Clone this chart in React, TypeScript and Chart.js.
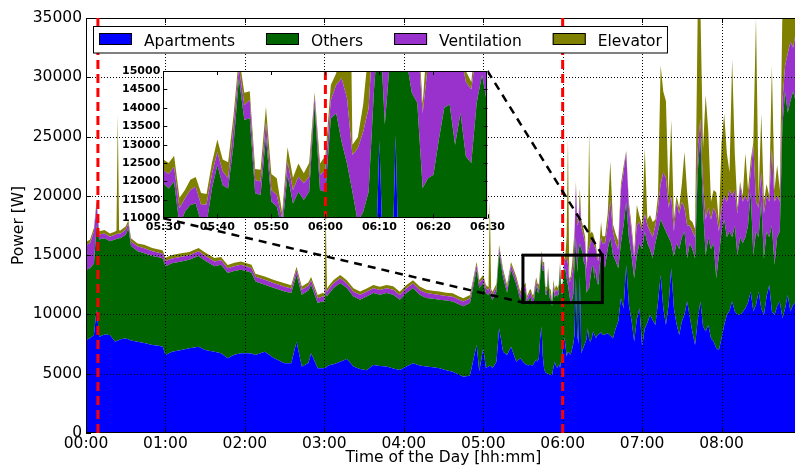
import React, { useEffect, useRef } from 'react';
import { Chart, registerables } from 'chart.js';

Chart.register(...registerables);

// ---------- DATA (minutes after midnight, power in W) ----------
const nightMinutes = [
  0, 3, 6, 8, 10, 14, 18, 22, 23, 24,
  25, 26, 30, 32, 34, 39, 44, 50, 55, 58,
  60, 65, 72, 78, 85, 90, 97, 102, 107, 112,
  117, 122, 125, 128, 135, 142, 150, 155, 159, 163,
  168, 170, 175, 179, 180, 181, 182, 184, 187, 192,
  197, 202, 207, 212, 217, 222, 227, 232, 237, 242,
  247, 252, 257, 262, 267, 272, 277, 281, 285, 290,
  295, 297, 300, 302, 304, 305, 306, 307, 310, 312,
  315, 318, 321, 325, 328,
];
const nightApartments = [
  7840, 8000, 8260, 10400, 8120, 8300, 8260, 7700, 7750, 7800,
  7850, 7900, 7980, 7900, 7800, 7700, 7600, 7420, 7350, 7280,
  6580, 6860, 7000, 7140, 7280, 7000, 6850, 6720, 6300, 6600,
  6720, 6720, 6700, 6580, 6860, 6300, 5880, 5880, 7700, 5600,
  5900, 6720, 5460, 5460, 5480, 5500, 5600, 5740, 5800, 6010,
  6250, 5600, 5400, 5300, 5740, 5650, 5600, 5450, 5310, 5600,
  5880, 5700, 5600, 5550, 5460, 5300, 5170, 4950, 4750, 4850,
  7420, 5200, 7140, 5500, 5600, 5700, 5600, 5460, 6000, 8830,
  6860, 6580, 7280, 6010, 6300,
];
const nightOthers = [
  5910, 5900, 6040, 7100, 8200, 8120, 7910, 8620, 8620, 8600,
  8570, 8520, 8740, 9370, 7970, 7620, 7570, 7500, 7470, 7440,
  7490, 7460, 7470, 7480, 7640, 7520, 7220, 7470, 7190, 7070,
  7050, 6900, 6820, 6190, 5640, 5920, 6060, 5920, 5650, 6060,
  6120, 5780, 5500, 5660, 5540, 6400, 5920, 6080, 6420, 6640,
  5970, 5920, 5840, 6220, 6060, 6020, 6200, 6220, 5930, 6200,
  6340, 5970, 5780, 5770, 5780, 5870, 5930, 5920, 5930, 6120,
  6350, 7020, 5510, 6320, 6020, 6200, 5820, 5780, 5920, 6350,
  6260, 5240, 6490, 6510, 4940,
];
const nightVentilation = [
  2100, 2100, 2700, 1800, 420, 400, 380, 400, 420, 400,
  400, 380, 420, 400, 380, 400, 420, 400, 380, 400,
  420, 400, 400, 380, 400, 420, 400, 380, 400, 400,
  420, 400, 380, 400, 420, 400, 400, 380, 400, 420,
  400, 380, 400, 420, 400, 400, 380, 400, 420, 400,
  380, 400, 420, 400, 400, 380, 400, 420, 400, 400,
  380, 400, 420, 400, 400, 380, 400, 420, 400, 380,
  400, 420, 400, 380, 400, 400, 420, 400, 380, 400,
  420, 400, 380, 400, 420,
];
const nightElevator = [
  280, 300, 300, 300, 280, 290, 270, 280, 280, 10000,
  280, 270, 290, 280, 280, 270, 290, 280, 280, 270,
  280, 290, 280, 270, 280, 290, 280, 280, 270, 290,
  280, 280, 290, 270, 280, 280, 290, 280, 270, 280,
  290, 280, 270, 280, 280, 6700, 290, 280, 270, 280,
  280, 290, 280, 270, 280, 290, 280, 280, 270, 280,
  290, 280, 280, 270, 290, 280, 280, 270, 280, 290,
  280, 270, 280, 290, 280, 7300, 280, 270, 290, 280,
  280, 290, 270, 280, 280,
];

const zoomMinutes = [
  330, 331, 332, 333, 334, 335, 336, 337, 338, 339,
  340, 341, 342, 343, 344, 345, 346, 347, 348, 349,
  350, 351, 352, 353, 354, 355, 356, 357, 358, 359,
  360, 361, 362, 363, 364, 365, 366, 367, 368, 369,
  370, 371, 372, 373, 374, 375, 376, 377, 378, 379,
  380, 381, 382, 383, 384, 385, 386, 387, 388, 389,
  390,
];
const zoomApartments = [
  6000, 5900, 5800, 5750, 5700, 5750, 5740, 5700, 5800, 6000,
  6200, 6000, 6300, 8000, 8960, 6500, 5400, 5100, 5040, 5000,
  4950, 4900, 4880, 5500, 6000, 5600, 5500, 5800, 5500, 6200,
  6800, 8100, 7500, 6440, 6870, 6700, 6600, 7000, 7500, 8300,
  13100, 8270, 7500, 13250, 6730, 7000, 7290, 7600, 7900, 8830,
  7850, 7700, 8000, 8550, 8300, 8000, 8200, 8300, 8400, 8500,
  8270,
];
const zoomOthers = [
  5950, 5910, 6200, 5050, 5480, 5610, 5660, 5200, 5050, 5810,
  6250, 5900, 5510, 5000, 5840, 7170, 8320, 6580, 6590, 8220,
  6500, 6420, 5820, 6680, 5400, 6120, 6000, 5920, 8600, 5570,
  4920, 5610, 6350, 6640, 5620, 5020, 4300, 4180, 4220, 6200,
  3400, 5280, 7900, 2750, 8770, 8300, 7110, 6540, 3920, 3260,
  4330, 5440, 6000, 5540, 4700, 5860, 4480, 4200, 5740, 6400,
  5780,
];
const zoomVentilation = [
  350, 390, 400, 470, 360, 410, 460, 460, 530, 390,
  350, 370, 280, 500, 300, 410, 490, 360, 370, 400,
  320, 310, 300, 360, 370, 410, 450, 410, 200, 410,
  580, 500, 770, 1720, 1770, 1000, 2000, 2170, 2270, 2000,
  4400, 3950, 2400, 3500, 1900, 1700, 2100, 1860, 2030, 3110,
  3420, 2860, 2300, 2110, 2800, 1640, 2020, 2000, 1460, 1600,
  1950,
];
const zoomElevator = [
  300, 300, 300, 290, 230, 280, 260, 330, 280, 300,
  340, 330, 430, 300, 300, 330, 240, 300, 320, 410,
  430, 460, 150, 390, 330, 360, 270, 370, 120, 310,
  400, 410, 320, 1700, 10640, 280, 300, 750, 1610, 700,
  300, 500, 500, 1100, 600, 600, 600, 500, 250, 1000,
  9800, 800, 700, 600, 600, 500, 300, 200, 600, 1300,
  600,
];

const morningMinutes = [
  392, 394, 396, 398, 400, 402, 404, 406, 408, 410,
  412, 414, 416, 418, 420, 422, 424, 426, 428, 430,
  432, 434, 436, 438, 440, 442, 444, 446, 448, 450,
  452, 454, 456, 458, 460, 462, 464, 466, 468, 470,
  472, 474, 476, 478, 480, 482, 484, 486, 488, 490,
  492, 494, 496, 498, 500, 502, 504, 506, 508, 510,
  512, 514, 516, 518, 520, 522, 524, 526, 528, 530,
  532, 534, 536, 538, 540,
];
const morningApartments = [
  8300, 8410, 8200, 7990, 8800, 9400, 11360, 10500, 14170, 10800,
  9500, 7710, 9600, 10520, 7290, 8800, 9300, 9960, 9500, 9100,
  11000, 13330, 10520, 9100, 10800, 13890, 10520, 9200, 8270, 9400,
  10000, 11080, 9800, 8500, 7430, 9500, 11080, 9000, 8550, 9100,
  8000, 7710, 7150, 7010, 8000, 9100, 9960, 10300, 11080, 10240,
  10000, 9960, 10200, 10520, 11000, 11920, 10240, 10800, 11920, 10500,
  9960, 11500, 12480, 10240, 9960, 10700, 11080, 9680, 10500, 11640,
  10240, 10800, 11080, 10500, 10800,
];
const morningOthers = [
  5700, 7090, 8300, 7010, 5700, 4490, 4640, 7000, 5330, 5700,
  5500, 5340, 5400, 5480, 8210, 8200, 6700, 5540, 5230, 6900,
  6000, 4670, 6980, 7900, 5700, 2110, 4380, 6800, 7230, 7100,
  7000, 3650, 6200, 7000, 7300, 12500, 13920, 10000, 6450, 7400,
  7500, 8290, 5900, 7990, 9000, 8900, 6540, 6700, 5420, 7260,
  5000, 6540, 5800, 5980, 6500, 8380, 4760, 6200, 4580, 9000,
  4740, 5500, 4020, 7260, 4240, 5800, 5920, 16320, 18300, 15360,
  17760, 18000, 16920, 16500, 15700,
];
const morningVentilation = [
  2000, 2000, 3150, 2000, 1500, 1610, 4500, 4500, 4200, 2500,
  2000, 1750, 2500, 1800, 1500, 1500, 1500, 1500, 1770, 1500,
  2000, 3000, 4500, 4500, 2500, 4000, 2100, 3500, 3000, 3000,
  2000, 2770, 1500, 1500, 1770, 2000, 1500, 2000, 3000, 2500,
  2500, 3000, 5450, 2000, 2000, 2000, 3000, 3500, 3500, 3000,
  3500, 4450, 3500, 3500, 2000, 1700, 9300, 2500, 2500, 2500,
  3800, 3000, 3000, 6500, 5300, 3500, 2500, 2000, 2200, 5000,
  5000, 3700, 5700, 5000, 5000,
];
const morningElevator = [
  600, 1000, 3250, 600, 800, 700, 500, 500, 100, 500,
  500, 400, 1730, 500, 500, 5500, 500, 1380, 1300, 500,
  1000, 10000, 6800, 6500, 1000, 6400, 1000, 500, 500, 1500,
  4700, 2830, 500, 800, 700, 11500, 9500, 3000, 10500, 6400,
  1500, 1500, 1800, 800, 5500, 6900, 4100, 1500, 11500, 3100,
  500, 250, 500, 3600, 1000, 1000, 200, 15500, 1000, 4900,
  1000, 1000, 500, 7000, 1000, 2600, 1000, 8000, 5000, 3500,
  3000, 3500, 2300, 3800, 3500,
];

const seriesNames = ['Apartments', 'Others', 'Ventilation', 'Elevator'];
const seriesColors = ['#0000ff', '#006400', '#9932cc', '#808000'];

const mainTimeTicks = [0, 60, 120, 180, 240, 300, 360, 420, 480];
const mainPowerTicks = [0, 5000, 10000, 15000, 20000, 25000, 30000, 35000];
const insetTimeTicks = [330, 340, 350, 360, 370, 380, 390];
const insetPowerTicks = [11000, 11500, 12000, 12500, 13000, 13500, 14000, 14500, 15000];
const mainEventMinutes = [9, 360];
const insetEventMinutes = [360];
const zoomTimeRange = [330, 390];
const zoomPowerRange = [11000, 15000];

// ---------- helpers ----------
const FONT = "'DejaVu Sans', 'Liberation Sans', sans-serif";

const minutes = [...nightMinutes, ...zoomMinutes, ...morningMinutes];
const seriesValues = [
  [...nightApartments, ...zoomApartments, ...morningApartments],
  [...nightOthers, ...zoomOthers, ...morningOthers],
  [...nightVentilation, ...zoomVentilation, ...morningVentilation],
  [...nightElevator, ...zoomElevator, ...morningElevator],
];

function hhmm(v: number) {
  const h = Math.floor(v / 60);
  const m = Math.round(v - h * 60);
  return String(h).padStart(2, '0') + ':' + String(m).padStart(2, '0');
}

function makeDatasets() {
  return seriesNames.map((name, i) => ({
    label: name,
    data: minutes.map((t, j) => ({ x: t, y: seriesValues[i][j] })),
    backgroundColor: seriesColors[i],
    borderColor: seriesColors[i],
    borderWidth: 0,
    pointRadius: 0,
    fill: i === 0 ? 'start' : '-1',
    tension: 0,
  }));
}

function seg(ctx: CanvasRenderingContext2D, x1: number, y1: number, x2: number, y2: number) {
  ctx.beginPath();
  ctx.moveTo(x1, y1);
  ctx.lineTo(x2, y2);
  ctx.stroke();
}

// inset plot-area position in page pixels
const INSET_CANVAS = { left: 110, top: 60, width: 420, height: 185 };
const INSET_AREA = { left: 163.3, top: 71, right: 487.5, bottom: 218.3 };

function drawLegend(ctx: CanvasRenderingContext2D) {
  ctx.save();
  ctx.font = `15.5px ${FONT}`;
  const items: any[] = [];
  let xpos = 99;
  let lastEnd = 0;
  seriesNames.forEach((name, i) => {
    const tw = ctx.measureText(name).width;
    items.push({ x: xpos, name, color: seriesColors[i] });
    lastEnd = xpos + 45 + tw;
    xpos = lastEnd + 31;
  });
  const left = 93.5, top = 26.5, h = 26.5;
  const right = lastEnd + 5.5;
  ctx.fillStyle = '#ffffff';
  ctx.fillRect(left, top, right - left, h);
  ctx.strokeStyle = '#000';
  ctx.lineWidth = 1;
  ctx.strokeRect(left, top, right - left, h);
  items.forEach((it) => {
    ctx.fillStyle = it.color;
    ctx.fillRect(it.x, 33.5, 33, 11.5);
    ctx.strokeStyle = '#000';
    ctx.strokeRect(it.x + 0.5, 33.5, 32, 11);
    ctx.fillStyle = '#000';
    ctx.textBaseline = 'alphabetic';
    ctx.textAlign = 'left';
    ctx.fillText(it.name, it.x + 45, 45.5);
  });
  ctx.restore();
}

const mainDecor = {
  id: 'mainDecor',
  beforeDatasetsDraw(chart: any) {
    const { ctx, chartArea: a } = chart;
    ctx.save();
    ctx.beginPath();
    ctx.rect(a.left, a.top, a.right - a.left, a.bottom - a.top);
    ctx.clip();
  },
  afterDatasetsDraw(chart: any) {
    const { ctx, chartArea: a, scales } = chart;
    const x = scales.x, y = scales.y;
    ctx.restore();
    ctx.save();
    // dotted grid
    ctx.strokeStyle = '#000';
    ctx.lineWidth = 1;
    ctx.setLineDash([1, 2]);
    mainTimeTicks.forEach((v) => {
      if (v <= 0) return;
      const px = Math.round(x.getPixelForValue(v)) + 0.5;
      seg(ctx, px, a.top, px, a.bottom);
    });
    mainPowerTicks.forEach((v) => {
      if (v <= 0 || v >= 35000) return;
      const py = Math.round(y.getPixelForValue(v)) + 0.5;
      seg(ctx, a.left, py, a.right, py);
    });
    // inward ticks
    ctx.setLineDash([]);
    mainTimeTicks.forEach((v) => {
      const px = Math.round(x.getPixelForValue(v)) + 0.5;
      seg(ctx, px, a.bottom, px, a.bottom - 5);
      seg(ctx, px, a.top, px, a.top + 5);
    });
    mainPowerTicks.forEach((v) => {
      const py = Math.round(y.getPixelForValue(v)) + 0.5;
      seg(ctx, a.left, py, a.left + 5, py);
      seg(ctx, a.right, py, a.right - 5, py);
    });
    // spines
    ctx.strokeRect(Math.round(a.left) + 0.5, Math.round(a.top) + 0.5,
      Math.round(a.right - a.left) - 1, Math.round(a.bottom - a.top) - 1);
    // red event lines
    ctx.strokeStyle = '#ff0000';
    ctx.lineWidth = 3;
    ctx.setLineDash([9, 5]);
    mainEventMinutes.forEach((v) => {
      const px = x.getPixelForValue(v);
      seg(ctx, px, a.top, px, a.bottom);
    });
    // zoom rectangle
    const rx0 = x.getPixelForValue(zoomTimeRange[0]);
    const rx1 = x.getPixelForValue(zoomTimeRange[1]);
    const ry0 = y.getPixelForValue(zoomPowerRange[1]);
    const ry1 = y.getPixelForValue(zoomPowerRange[0]);
    ctx.setLineDash([]);
    ctx.strokeStyle = '#000';
    ctx.lineWidth = 3;
    ctx.strokeRect(rx0, ry0, rx1 - rx0, ry1 - ry0);
    // connectors
    ctx.lineWidth = 2.5;
    ctx.setLineDash([8, 6]);
    seg(ctx, INSET_AREA.left, INSET_AREA.bottom, rx0, ry1);
    seg(ctx, INSET_AREA.right, INSET_AREA.top, rx1, ry0);
    ctx.restore();
    drawLegend(ctx);
  },
};

const insetDecor = {
  id: 'insetDecor',
  beforeDatasetsDraw(chart: any) {
    const { ctx, chartArea: a } = chart;
    ctx.save();
    ctx.fillStyle = '#ffffff';
    ctx.fillRect(a.left, a.top, a.right - a.left, a.bottom - a.top);
    ctx.beginPath();
    ctx.rect(a.left, a.top, a.right - a.left, a.bottom - a.top);
    ctx.clip();
  },
  afterDatasetsDraw(chart: any) {
    const { ctx, chartArea: a, scales } = chart;
    const x = scales.x, y = scales.y;
    ctx.restore();
    ctx.save();
    ctx.strokeStyle = '#ff0000';
    ctx.lineWidth = 3;
    ctx.setLineDash([9, 5]);
    insetEventMinutes.forEach((v) => {
      const px = x.getPixelForValue(v);
      seg(ctx, px, a.top, px, a.bottom);
    });
    ctx.setLineDash([]);
    ctx.strokeStyle = '#000';
    ctx.lineWidth = 1;
    insetTimeTicks.forEach((v) => {
      const px = Math.round(x.getPixelForValue(v)) + 0.5;
      seg(ctx, px, a.bottom, px, a.bottom - 4);
      seg(ctx, px, a.top, px, a.top + 4);
    });
    insetPowerTicks.forEach((v) => {
      const py = Math.round(y.getPixelForValue(v)) + 0.5;
      seg(ctx, a.left, py, a.left + 4, py);
      seg(ctx, a.right, py, a.right - 4, py);
    });
    ctx.strokeRect(Math.round(a.left) + 0.5, Math.round(a.top) + 0.5,
      Math.round(a.right - a.left) - 1, Math.round(a.bottom - a.top) - 1);
    ctx.restore();
  },
};

export default function App() {
  const mainRef = useRef<HTMLCanvasElement>(null);
  const insetRef = useRef<HTMLCanvasElement>(null);

  useEffect(() => {
    const labelFont = { family: FONT, size: 15.5 };
    const main = new Chart(mainRef.current as HTMLCanvasElement, {
      type: 'line',
      data: { datasets: makeDatasets() as any },
      plugins: [mainDecor as any],
      options: {
        animation: false,
        responsive: false,
        events: [],
        layout: { padding: { left: 0, right: 9, top: 18, bottom: 0 } },
        plugins: { legend: { display: false }, tooltip: { enabled: false } },
        scales: {
          x: {
            type: 'linear',
            min: 0,
            max: 540,
            afterBuildTicks: (s: any) => { s.ticks = mainTimeTicks.map((v) => ({ value: v })); },
            afterFit: (s: any) => { s.height = 43; },
            ticks: {
              callback: (v: any) => hhmm(Number(v)),
              font: labelFont,
              color: '#000',
              padding: 2,
              maxRotation: 0,
              autoSkip: false,
            },
            grid: { display: false, drawTicks: false },
            border: { display: false },
            title: {
              display: true,
              text: 'Time of the Day [hh:mm]',
              font: labelFont,
              color: '#000',
              padding: { top: 0, bottom: 8.5 },
            },
          },
          y: {
            type: 'linear',
            stacked: true,
            min: 0,
            max: 35000,
            afterBuildTicks: (s: any) => { s.ticks = mainPowerTicks.map((v) => ({ value: v })); },
            afterFit: (s: any) => { s.width = 86; },
            ticks: {
              callback: (v: any) => String(v),
              font: labelFont,
              color: '#000',
              padding: 4,
            },
            grid: { display: false, drawTicks: false },
            border: { display: false },
            title: {
              display: true,
              text: 'Power [W]',
              font: labelFont,
              color: '#000',
              padding: { top: 10, bottom: 0 },
            },
          },
        },
      } as any,
    });

    const insetFont = { family: FONT, size: 11, weight: 'bold' };
    const inset = new Chart(insetRef.current as HTMLCanvasElement, {
      type: 'line',
      data: { datasets: makeDatasets() as any },
      plugins: [insetDecor as any],
      options: {
        animation: false,
        responsive: false,
        events: [],
        layout: {
          padding: {
            left: 0,
            top: INSET_AREA.top - INSET_CANVAS.top,
            right: INSET_CANVAS.left + INSET_CANVAS.width - INSET_AREA.right,
            bottom: 0,
          },
        },
        plugins: { legend: { display: false }, tooltip: { enabled: false } },
        scales: {
          x: {
            type: 'linear',
            min: zoomTimeRange[0],
            max: zoomTimeRange[1],
            afterBuildTicks: (s: any) => { s.ticks = insetTimeTicks.map((v) => ({ value: v })); },
            afterFit: (s: any) => { s.height = INSET_CANVAS.top + INSET_CANVAS.height - INSET_AREA.bottom; },
            ticks: {
              callback: (v: any) => hhmm(Number(v)),
              font: insetFont,
              color: '#000',
              padding: 2,
              maxRotation: 0,
              autoSkip: false,
            },
            grid: { display: false, drawTicks: false },
            border: { display: false },
          },
          y: {
            type: 'linear',
            stacked: true,
            min: zoomPowerRange[0],
            max: zoomPowerRange[1],
            afterBuildTicks: (s: any) => { s.ticks = insetPowerTicks.map((v) => ({ value: v })); },
            afterFit: (s: any) => { s.width = INSET_AREA.left - INSET_CANVAS.left; },
            ticks: {
              callback: (v: any) => String(v),
              font: insetFont,
              color: '#000',
              padding: 3,
              autoSkip: false,
            },
            grid: { display: false, drawTicks: false },
            border: { display: false },
          },
        },
      } as any,
    });

    return () => {
      main.destroy();
      inset.destroy();
    };
  }, []);

  return (
    <div
      style={{
        position: 'fixed',
        left: 0,
        top: 0,
        width: 795,
        height: 476,
        overflow: 'hidden',
        background: '#ffffff',
      }}
    >
      <canvas
        ref={mainRef}
        width={810}
        height={476}
        style={{ position: 'absolute', left: 0, top: 0, width: 810, height: 476 }}
      />
      <canvas
        ref={insetRef}
        width={INSET_CANVAS.width}
        height={INSET_CANVAS.height}
        style={{
          position: 'absolute',
          left: INSET_CANVAS.left,
          top: INSET_CANVAS.top,
          width: INSET_CANVAS.width,
          height: INSET_CANVAS.height,
        }}
      />
    </div>
  );
}
